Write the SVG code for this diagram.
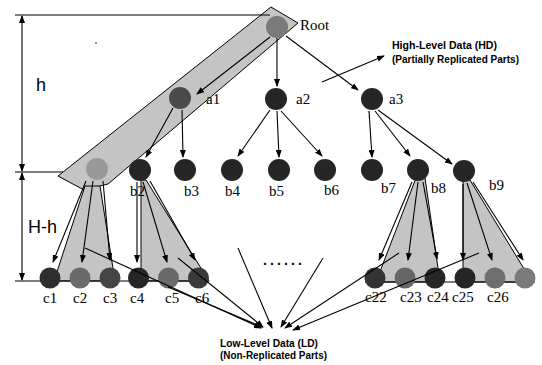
<svg xmlns="http://www.w3.org/2000/svg" width="542" height="365" viewBox="0 0 542 365">
<defs>
<marker id="ah" markerUnits="userSpaceOnUse" markerWidth="8" markerHeight="6" refX="7" refY="3" orient="auto-start-reverse">
<path d="M0,0 L8,3 L0,6 z" fill="#000"/>
</marker>
<style>
.ln{stroke:#000;stroke-width:1.1;fill:none}
.ar{stroke:#000;stroke-width:1.1;fill:none;marker-end:url(#ah)}
.dk{fill:#262626}
.lb{font-family:"Liberation Serif",serif;font-size:15px;fill:#000}
.sm{font-family:"Liberation Sans",sans-serif;font-size:10px;font-weight:bold;fill:#000}
.dim{font-family:"Liberation Sans",sans-serif;font-size:18px;fill:#000}
.shade{fill:#c4c4c4;stroke:#000;stroke-width:1}
</style>
</defs>
<rect width="542" height="365" fill="#fff"/>

<g id="shading">
<polygon class="shade" fill="#d2d2d2" points="58,176 271,7 298,23 108,184 84,190"/>
<polygon class="shade" points="85,186 100,186 115,281 54,281"/>
<polygon class="shade" points="141,180 146,180 209,281 141,281"/>
<polygon class="shade" points="416,178 425,178 440,282 376,282"/>
<polygon class="shade" points="463,180 470,180 532,282 463,282"/>
</g>

<g id="dimension">
<line class="ln" x1="15" y1="15" x2="270" y2="15"/>
<line class="ln" x1="15" y1="172" x2="63" y2="172"/>
<line class="ln" x1="15" y1="281" x2="208" y2="281"/>
<line class="ln" x1="365" y1="282" x2="535" y2="282"/>
<line class="ln" x1="22" y1="16" x2="22" y2="171" marker-start="url(#ah)" marker-end="url(#ah)"/>
<line class="ln" x1="22" y1="173" x2="22" y2="280" marker-start="url(#ah)" marker-end="url(#ah)"/>
<text class="dim" x="36" y="91">h</text>
<text class="dim" x="28" y="233" font-size="17">H-h</text>
<circle cx="96" cy="43" r="0.8" fill="#000"/>
</g>

<g id="nodes">
<g id="root"><circle cx="277" cy="27" r="11" fill="#7a7a7a"/><text class="lb" x="300" y="30" font-size="14">Root</text></g>
<g id="a1"><circle cx="180" cy="98" r="11" fill="#4a4a4a"/><text class="lb" x="206" y="104">a1</text></g>
<g id="a2"><circle class="dk" cx="276" cy="99" r="11"/><text class="lb" x="296" y="104">a2</text></g>
<g id="a3"><circle class="dk" cx="372" cy="99" r="11"/><text class="lb" x="389" y="104">a3</text></g>
<g id="b1"><circle cx="97" cy="169" r="11" fill="#999"/></g>
<g id="b2"><circle class="dk" cx="140" cy="170" r="11"/><text class="lb" x="130" y="196">b2</text></g>
<g id="b3"><circle class="dk" cx="185" cy="170" r="11"/><text class="lb" x="184" y="196">b3</text></g>
<g id="b4"><circle class="dk" cx="232" cy="170" r="11"/><text class="lb" x="225" y="196">b4</text></g>
<g id="b5"><circle class="dk" cx="279" cy="170" r="11"/><text class="lb" x="269" y="196">b5</text></g>
<g id="b6"><circle class="dk" cx="325" cy="170" r="11"/><text class="lb" x="324" y="195">b6</text></g>
<g id="b7"><circle class="dk" cx="372" cy="170" r="11"/><text class="lb" x="381" y="193">b7</text></g>
<g id="b8"><circle class="dk" cx="418" cy="170" r="11"/><text class="lb" x="431" y="193">b8</text></g>
<g id="b9"><circle class="dk" cx="464" cy="171" r="11"/><text class="lb" x="489" y="190">b9</text></g>
<g id="c1"><circle cx="50" cy="278" r="10.5" fill="#2e2e2e"/><text class="lb" x="43" y="303">c1</text></g>
<g id="c2"><circle cx="80" cy="278" r="10.5" fill="#6a6a6a"/><text class="lb" x="73" y="303">c2</text></g>
<g id="c3"><circle cx="110" cy="278" r="10.5" fill="#444"/><text class="lb" x="103" y="303">c3</text></g>
<g id="c4"><circle class="dk" cx="138.5" cy="278" r="10.5"/><text class="lb" x="130" y="303">c4</text></g>
<g id="c5"><circle cx="168.5" cy="278" r="10.5" fill="#6a6a6a"/><text class="lb" x="165" y="303">c5</text></g>
<g id="c6"><circle cx="198.5" cy="278" r="10.5" fill="#3a3a3a"/><text class="lb" x="195" y="303">c6</text></g>
<g id="c22"><circle cx="375" cy="278" r="10.5" fill="#333"/><text class="lb" x="365" y="302">c22</text></g>
<g id="c23"><circle cx="405" cy="278" r="10.5" fill="#666"/><text class="lb" x="400" y="302">c23</text></g>
<g id="c24"><circle class="dk" cx="435" cy="278" r="10.5"/><text class="lb" x="427" y="302">c24</text></g>
<g id="c25"><circle class="dk" cx="465" cy="278" r="10.5"/><text class="lb" x="452" y="302">c25</text></g>
<g id="c26"><circle cx="495" cy="278" r="10.5" fill="#6e6e6e"/><text class="lb" x="487" y="302">c26</text></g>
<g id="c27"><circle cx="525" cy="278" r="10.5" fill="#7a7a7a"/></g>
</g>

<g id="connectors">
<line class="ar" x1="270" y1="37" x2="197" y2="94"/>
<line class="ar" x1="277" y1="38" x2="277" y2="86"/>
<line class="ar" x1="286" y1="36" x2="358" y2="90"/>
<line class="ar" x1="173" y1="108" x2="146" y2="157"/>
<line class="ar" x1="182" y1="110" x2="183" y2="157"/>
<line class="ar" x1="270" y1="110" x2="238" y2="156"/>
<line class="ar" x1="277" y1="111" x2="279" y2="157"/>
<line class="ar" x1="281" y1="111" x2="322" y2="156"/>
<line class="ar" x1="369" y1="111" x2="372" y2="157"/>
<line class="ar" x1="375" y1="111" x2="410" y2="156"/>
<line class="ar" x1="378" y1="110" x2="452" y2="164"/>
<line class="ar" x1="86" y1="181" x2="53" y2="262"/>
<line class="ar" x1="93" y1="181" x2="82" y2="262"/>
<line class="ar" x1="103" y1="181" x2="110" y2="260"/>
<line class="ar" x1="137" y1="182" x2="137" y2="262"/>
<line class="ar" x1="143" y1="182" x2="167" y2="262"/>
<line class="ar" x1="150" y1="181" x2="195" y2="260"/>
<line class="ar" x1="412" y1="182" x2="379" y2="260"/>
<line class="ar" x1="418" y1="182" x2="408" y2="260"/>
<line class="ar" x1="423" y1="182" x2="437" y2="259"/>
<line class="ar" x1="463" y1="184" x2="463" y2="260"/>
<line class="ar" x1="467" y1="183" x2="492" y2="260"/>
<line class="ar" x1="473" y1="182" x2="523" y2="260"/>
<line class="ar" x1="322" y1="82" x2="384" y2="56"/>
<line class="ar" x1="85" y1="248" x2="261" y2="328"/>
<line class="ar" x1="168" y1="287" x2="262" y2="327"/>
<line class="ar" x1="178" y1="258" x2="263" y2="327"/>
<line class="ar" x1="238" y1="248" x2="272" y2="328"/>
<line class="ar" x1="323" y1="258" x2="281" y2="327"/>
<line class="ar" x1="399" y1="253" x2="285" y2="328"/>
<line class="ar" x1="479" y1="253" x2="293" y2="330"/>
</g>

<g id="texts">
<text class="sm" x="392" y="49" textLength="105" lengthAdjust="spacingAndGlyphs">High-Level Data (HD)</text>
<text class="sm" x="392" y="63" textLength="127" lengthAdjust="spacingAndGlyphs">(Partially Replicated Parts)</text>
<text class="sm" x="220" y="347" textLength="98" lengthAdjust="spacingAndGlyphs">Low-Level Data (LD)</text>
<text class="sm" x="220" y="359" textLength="107" lengthAdjust="spacingAndGlyphs">(Non-Replicated Parts)</text>
<text x="263" y="265" font-family="Liberation Sans, sans-serif" font-size="14" font-weight="bold" textLength="39" lengthAdjust="spacing">......</text>
</g>
</svg>
